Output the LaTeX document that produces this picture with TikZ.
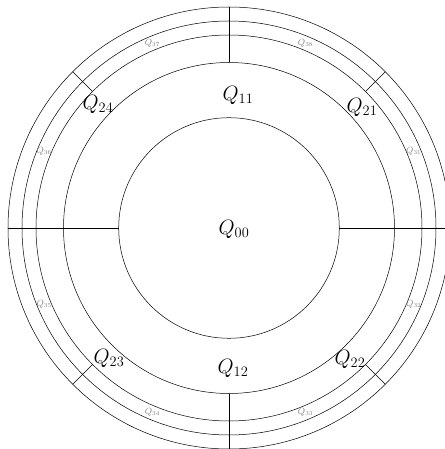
\documentclass[tikz,border=0pt]{standalone}
\usepackage{amsmath}
\usepackage{tikz}

\begin{document}
\begin{tikzpicture}[x=1pt,y=1pt,line width=0.5pt,
    bigq/.style={font=\fontsize{19.5}{22}\selectfont},
    smallq/.style={font=\fontsize{9}{10}\selectfont,text=gray}]
  \def\Ra{110.3}  % Q_00 圆半径
  \def\Rb{165.5}  % 第一环外半径
  \def\Rc{193}    % 第二环外半径
  \def\Rd{207}    % 第三环外半径
  \def\Re{221}    % 最外圆半径
  \def\Rl{200}    % 第三环标签半径
  \useasboundingbox (-229,-221) rectangle (215,228);

  % ================= 同心圆 =================
  \draw (0,0) circle (\Ra);
  \draw (0,0) circle (\Rb);
  \draw (0,0) circle (\Rc);
  \draw (0,0) circle (\Rd);
  \draw (0,0) circle (\Re);

  % ================= 分割线 =================
  \draw (-\Re,0) -- (-\Ra,0);
  \draw (\Ra,0) -- (\Re,0);
  \draw (0,\Rb) -- (0,\Re);
  \draw (0,-\Rb) -- (0,-\Re);
  \draw (45:\Rc) -- (45:\Re);
  \draw (135:\Rc) -- (135:\Re);
  \draw (225:\Rc) -- (225:\Re);
  \draw (315:\Rc) -- (315:\Re);

  % ================= 标签 =================
  \node[bigq] (q00) at (5,-1) {$Q_{00}$};
  \node[bigq] (q11) at (9,133) {$Q_{11}$};
  \node[bigq] (q12) at (4,-140) {$Q_{12}$};
  \node[bigq] (q21) at (133,121) {$Q_{21}$};
  \node[bigq] (q22) at (121,-131) {$Q_{22}$};
  \node[bigq] (q23) at (-120,-130) {$Q_{23}$};
  \node[bigq] (q24) at (-131,124) {$Q_{24}$};

  \node[smallq] (q31) at (22.5:\Rl) {$Q_{31}$};
  \node[smallq] (q32) at (-22.5:\Rl) {$Q_{32}$};
  \node[smallq] (q33) at (-67.5:\Rl) {$Q_{33}$};
  \node[smallq] (q34) at (-112.5:\Rl) {$Q_{34}$};
  \node[smallq] (q35) at (202.5:\Rl) {$Q_{35}$};
  \node[smallq] (q36) at (157.5:\Rl) {$Q_{36}$};
  \node[smallq] (q37) at (112.5:\Rl) {$Q_{37}$};
  \node[smallq] (q38) at (67.5:\Rl) {$Q_{38}$};
\end{tikzpicture}
\end{document}
